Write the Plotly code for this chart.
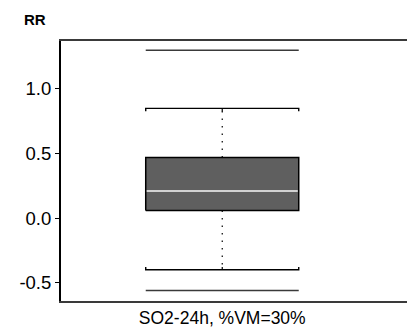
import plotly.graph_objects as go

# summary statistics of the RR distribution
categories = ["SO2-24h, %VM=30%"]
minimum = [-0.56]
lower_whisker = [-0.40]
q1 = [0.06]
median = [0.21]
q3 = [0.47]
upper_whisker = [0.85]
maximum = [1.30]

y_ticks = [-0.5, 0.0, 0.5, 1.0]
y_tick_labels = ["-0.5", "0.0", "0.5", "1.0"]

FONT = "Liberation Sans, Arial, Helvetica, sans-serif"
HALF = 0.4    # half width of the box, in x units
TICK = 0.022  # cap end ticks, in y units

fig = go.Figure()

for i, cat in enumerate(categories):
    x0, x1 = i - HALF, i + HALF

    # min / max lines
    for v in (minimum[i], maximum[i]):
        fig.add_trace(go.Scatter(
            x=[x0, x1], y=[v, v], mode='lines',
            line=dict(color='#3a3a3a', width=1.6), hoverinfo='skip'))

    # dotted whiskers
    fig.add_trace(go.Scatter(
        x=[i, i], y=[q3[i], upper_whisker[i]], mode='lines',
        line=dict(color='black', width=1.2, dash='1.5px,6px'), hoverinfo='skip'))
    fig.add_trace(go.Scatter(
        x=[i, i], y=[q1[i], lower_whisker[i]], mode='lines',
        line=dict(color='black', width=1.2, dash='1.5px,6px'), hoverinfo='skip'))

    # whisker caps with small end ticks
    uw, lw = upper_whisker[i], lower_whisker[i]
    fig.add_trace(go.Scatter(
        x=[x0, x0, x1, x1], y=[uw - TICK, uw, uw, uw - TICK], mode='lines',
        line=dict(color='black', width=1.4), hoverinfo='skip'))
    fig.add_trace(go.Scatter(
        x=[i, i], y=[uw, uw - TICK], mode='lines',
        line=dict(color='black', width=1.2), hoverinfo='skip'))
    fig.add_trace(go.Scatter(
        x=[x0, x0, x1, x1], y=[lw + TICK, lw, lw, lw + TICK], mode='lines',
        line=dict(color='black', width=1.4), hoverinfo='skip'))
    fig.add_trace(go.Scatter(
        x=[i, i], y=[lw, lw + TICK], mode='lines',
        line=dict(color='black', width=1.2), hoverinfo='skip'))

    # box
    fig.add_trace(go.Scatter(
        x=[x0, x1, x1, x0, x0], y=[q1[i], q1[i], q3[i], q3[i], q1[i]],
        mode='lines', fill='toself', fillcolor='#5f5f5f',
        line=dict(color='black', width=1.5), hoverinfo='skip'))

    # median
    fig.add_trace(go.Scatter(
        x=[x0 + 0.005, x1 - 0.005], y=[median[i], median[i]], mode='lines',
        line=dict(color='#d2d2d2', width=2), hoverinfo='skip'))

fig.update_layout(
    width=407, height=335,
    margin=dict(l=61, r=0, t=41, b=34),
    paper_bgcolor='white', plot_bgcolor='white',
    showlegend=False,
    font=dict(family=FONT, size=17, color='black'),
    annotations=[dict(
        text='<b>RR</b>', xref='paper', yref='paper', x=-0.075, y=1.0,
        yshift=22, xanchor='center', yanchor='middle', showarrow=False,
        font=dict(family=FONT, size=15, color='black'))],
)
fig.update_xaxes(
    range=[-0.843, 0.966], showgrid=False, zeroline=False,
    showline=True, mirror=True, linecolor='#3a3a3a', linewidth=2,
    tickmode='array', tickvals=list(range(len(categories))), ticktext=categories,
    ticks='', tickfont=dict(size=17.5))
fig.update_yaxes(
    range=[-0.6416, 1.3715], showgrid=False, zeroline=False,
    showline=True, mirror=False, linecolor='black', linewidth=2,
    tickmode='array', tickvals=y_ticks, ticktext=y_tick_labels,
    ticks='outside', ticklen=4, tickwidth=1, tickcolor='black',
    tickfont=dict(size=18.5))

# the page body has a default 8px margin; drop it so the figure fills the window
fig.write_html("out.html", config={'displayModeBar': False},
               post_script="document.body.style.margin='0';")
